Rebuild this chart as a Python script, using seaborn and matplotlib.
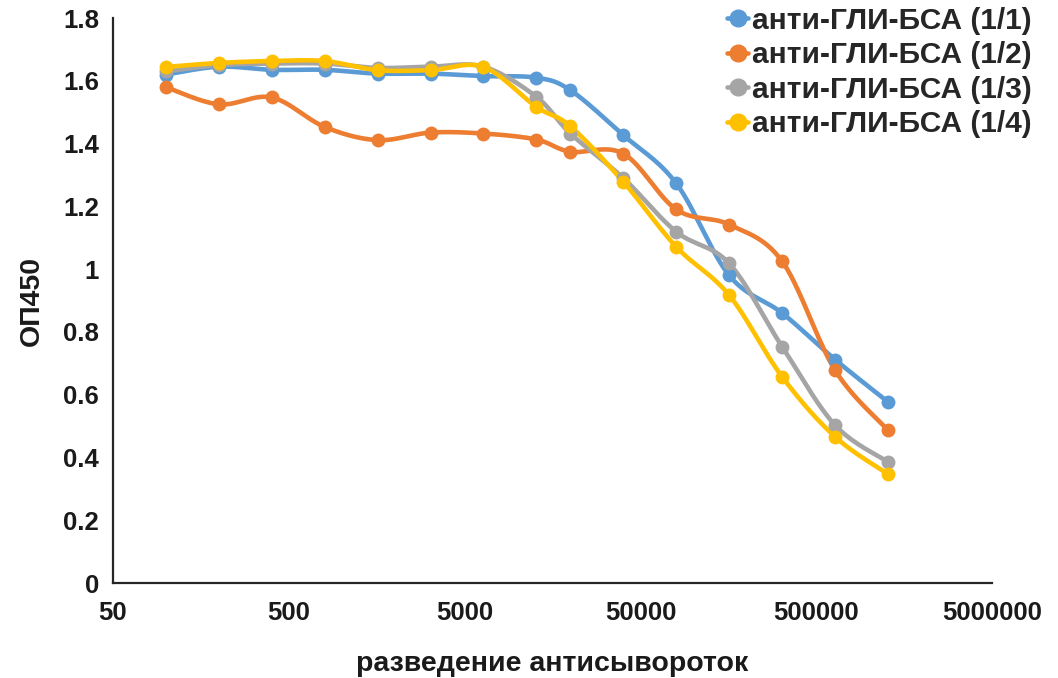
import numpy as np
import pandas as pd
import matplotlib
matplotlib.use("Agg")
import matplotlib.pyplot as plt
from matplotlib.lines import Line2D
import seaborn as sns

# Serum dilutions (reciprocal) and optical density at 450 nm
dilutions = [100, 200, 400, 800, 1600, 3200, 6400, 12800,
             20000, 40000, 80000, 160000, 320000, 640000, 1280000]
od_1_1 = [1.62, 1.645, 1.635, 1.635, 1.623, 1.623, 1.615, 1.61,
          1.57, 1.427, 1.273, 0.98, 0.86, 0.712, 0.577]
od_1_2 = [1.58, 1.525, 1.547, 1.453, 1.411, 1.435, 1.432, 1.413,
          1.374, 1.368, 1.19, 1.142, 1.025, 0.678, 0.487]
od_1_3 = [1.63, 1.65, 1.655, 1.655, 1.641, 1.645, 1.645, 1.549,
          1.432, 1.29, 1.119, 1.018, 0.753, 0.503, 0.386]
od_1_4 = [1.644, 1.657, 1.663, 1.663, 1.634, 1.634, 1.644, 1.517,
          1.455, 1.278, 1.071, 0.917, 0.657, 0.466, 0.347]

series_names = ["анти-ГЛИ-БСА (1/1)", "анти-ГЛИ-БСА (1/2)",
                "анти-ГЛИ-БСА (1/3)", "анти-ГЛИ-БСА (1/4)"]
series_values = [od_1_1, od_1_2, od_1_3, od_1_4]
colors = ["#5B9BD5", "#ED7D31", "#A5A5A5", "#FFC000"]

x_ticks = [50, 500, 5000, 50000, 500000, 5000000]
y_ticks = [0, 0.2, 0.4, 0.6, 0.8, 1, 1.2, 1.4, 1.6, 1.8]
y_tick_labels = ["0", "0.2", "0.4", "0.6", "0.8", "1", "1.2", "1.4", "1.6", "1.8"]

sns.set_style("white")
plt.rcParams["font.family"] = ["Liberation Sans", "DejaVu Sans"]
plt.rcParams["font.weight"] = "bold"

fig = plt.figure(figsize=(10.58, 6.78), dpi=100)
ax = fig.add_axes([0.1068, 0.1401, 0.8308, 0.8333])


def smooth_curve(xv, yv, n=30):
    """Catmull-Rom spline through the points in log-x space."""
    u = np.log10(np.asarray(xv, float)) * 175.4
    v = np.asarray(yv, float) * 314.0 / 1.8
    P = np.column_stack([u, v])
    P = np.vstack([P[0], P, P[-1]])
    out = []
    for i in range(1, len(P) - 2):
        p0, p1, p2, p3 = P[i - 1], P[i], P[i + 1], P[i + 2]
        t = np.linspace(0, 1, n, endpoint=False)[:, None]
        c1 = p1 + (p2 - p0) / 6.0
        c2 = p2 - (p3 - p1) / 6.0
        seg = ((1 - t) ** 3) * p1 + 3 * ((1 - t) ** 2) * t * c1 \
            + 3 * (1 - t) * t ** 2 * c2 + t ** 3 * p2
        out.append(seg)
    out.append(P[-2][None, :])
    out = np.vstack(out)
    return 10 ** (out[:, 0] / 175.4), out[:, 1] * 1.8 / 314.0


for name, vals, col in zip(series_names, series_values, colors):
    sx, sy = smooth_curve(dilutions, vals)
    sns.lineplot(x=sx, y=sy, sort=False, estimator=None, color=col,
                 linewidth=3.3, ax=ax, solid_capstyle="round")
    sns.scatterplot(x=dilutions, y=vals, color=col, s=100, linewidth=0,
                    ax=ax, zorder=3)

ax.set_xscale("log")
ax.set_xlim(50, 5000000)
ax.set_ylim(0, 1.8)
ax.set_xticks(x_ticks)
ax.set_xticklabels([str(t) for t in x_ticks])
ax.xaxis.set_minor_locator(matplotlib.ticker.NullLocator())
ax.set_yticks(y_ticks)
ax.set_yticklabels(y_tick_labels)
ax.tick_params(axis="both", length=0, labelsize=18.5, colors="#1a1a1a")
ax.tick_params(axis="x", pad=13)
ax.tick_params(axis="y", pad=10)
for lab in ax.get_xticklabels() + ax.get_yticklabels():
    lab.set_fontweight("bold")

for side in ["top", "right"]:
    ax.spines[side].set_visible(False)
for side in ["left", "bottom"]:
    ax.spines[side].set_color("#262626")
    ax.spines[side].set_linewidth(1.6)

ax.set_xlabel("разведение антисывороток", fontsize=20.5, fontweight="bold",
              labelpad=19, color="#1a1a1a")
ax.set_ylabel("ОП450", fontsize=20.5, fontweight="bold", labelpad=13,
              color="#1a1a1a")

handles = [Line2D([0], [0], color=c, marker="o", markersize=12, linewidth=3.3)
           for c in colors]
fig.legend(handles, series_names, loc="upper left",
           bbox_to_anchor=(0.676, 1.008), frameon=False,
           prop={"size": 21.5, "weight": "bold"}, handlelength=0.7,
           handletextpad=0.12, labelspacing=0.22, borderaxespad=0.0)

fig.savefig("out.png", dpi=100, facecolor="white")
